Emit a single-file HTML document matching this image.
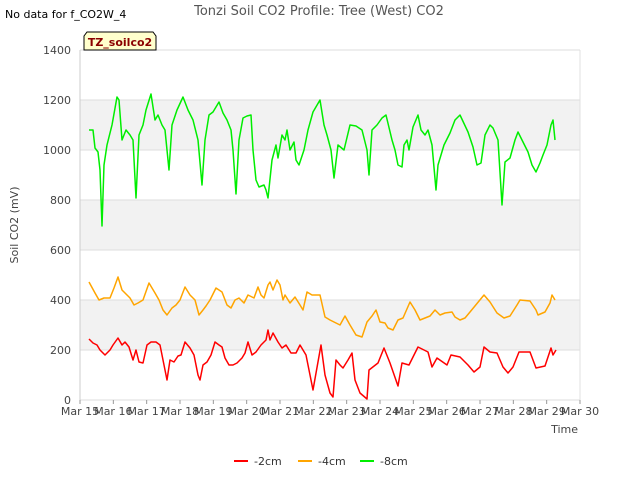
<!DOCTYPE html>
<html><head><meta charset="utf-8"><style>
body{margin:0;background:#fff;font-family:"DejaVu Sans","Liberation Sans",sans-serif;}
svg text{font-family:"DejaVu Sans","Liberation Sans",sans-serif;}
</style></head><body>
<svg id="chart" width="640" height="480">
<text x="5" y="18" font-size="11" fill="#000">No data for f_CO2W_4</text>
<text x="319" y="15" font-size="13" fill="#555" text-anchor="middle">Tonzi Soil CO2 Profile: Tree (West) CO2</text>
<g id="plot"></g>
<g><path d="M84,50 L84,36 L87,32 L153,32 L156,36 L156,50 Z" fill="#ffffcc" stroke="#000" stroke-width="1"/>
<text x="120" y="46" font-size="11" font-weight="bold" fill="#8b0000" text-anchor="middle">TZ_soilco2</text></g>
<text x="18" y="225" font-size="11" fill="#444" text-anchor="middle" transform="rotate(-90 18 225)">Soil CO2 (mV)</text>
<text x="578" y="433" font-size="11" fill="#444" text-anchor="end">Time</text>
<g id="legend"></g>
</svg>
<script>
const yTicks=[0,200,400,600,800,1000,1200,1400];
const xTickLabels=["Mar 15","Mar 16","Mar 17","Mar 18","Mar 19","Mar 20","Mar 21","Mar 22","Mar 23","Mar 24","Mar 25","Mar 26","Mar 27","Mar 28","Mar 29","Mar 30"];
const seriesNames=["-2cm","-4cm","-8cm"];
const seriesColors=["#ff0000","#ffa500","#00ee00"];
const tGreen=[0.27,0.39,0.45,0.54,0.6,0.66,0.72,0.81,0.96,1.11,1.17,1.26,1.38,1.5,1.59,1.68,1.77,1.89,1.98,2.13,2.25,2.34,2.46,2.55,2.67,2.76,2.91,3.09,3.24,3.39,3.54,3.66,3.75,3.87,3.99,4.17,4.29,4.41,4.53,4.59,4.68,4.77,4.89,5.01,5.13,5.19,5.28,5.37,5.52,5.58,5.64,5.76,5.88,5.94,6.06,6.15,6.21,6.3,6.42,6.48,6.57,6.72,6.84,6.99,7.2,7.32,7.41,7.53,7.62,7.74,7.92,8.1,8.28,8.46,8.61,8.67,8.76,8.91,9.06,9.18,9.36,9.45,9.54,9.66,9.72,9.81,9.87,9.99,10.14,10.23,10.35,10.44,10.56,10.68,10.74,10.92,11.1,11.25,11.4,11.64,11.79,11.91,12.03,12.15,12.3,12.39,12.54,12.66,12.75,12.9,13.05,13.14,13.26,13.44,13.56,13.68,13.8,13.89,14.01,14.13,14.19,14.25];
const vGreen=[1080,1080,1008,992,920,696,940,1020,1100,1212,1200,1040,1080,1060,1040,808,1060,1100,1160,1224,1120,1140,1100,1080,920,1100,1160,1212,1160,1120,1040,860,1040,1140,1152,1192,1148,1120,1080,1000,824,1040,1128,1136,1140,1000,880,852,860,840,808,960,1020,968,1060,1040,1080,1000,1032,960,940,1000,1080,1152,1200,1100,1060,1000,888,1020,1000,1100,1096,1080,1000,900,1080,1100,1128,1140,1040,1000,940,932,1020,1040,1000,1092,1140,1080,1060,1080,1020,840,940,1020,1068,1120,1140,1072,1012,940,948,1060,1100,1088,1040,780,952,968,1040,1072,1040,992,940,912,948,980,1020,1100,1120,1040];
const tOrange=[0.27,0.45,0.57,0.72,0.9,1.02,1.14,1.26,1.41,1.5,1.62,1.74,1.89,2.07,2.25,2.37,2.49,2.61,2.76,2.88,3.0,3.15,3.3,3.45,3.57,3.69,3.78,3.9,4.08,4.26,4.41,4.53,4.65,4.77,4.92,5.04,5.22,5.34,5.43,5.52,5.64,5.7,5.79,5.91,6.0,6.09,6.15,6.3,6.45,6.6,6.69,6.81,6.96,7.2,7.35,7.5,7.68,7.8,7.95,8.1,8.28,8.46,8.61,8.76,8.88,9.0,9.15,9.24,9.39,9.54,9.69,9.9,10.05,10.2,10.35,10.5,10.65,10.8,10.95,11.16,11.25,11.4,11.55,11.7,12.12,12.3,12.51,12.72,12.9,13.11,13.2,13.5,13.68,13.74,13.95,14.1,14.16,14.25];
const vOrange=[472,428,400,408,408,448,492,440,420,408,380,388,400,468,428,400,360,340,368,380,400,452,420,400,340,360,376,400,448,432,380,368,400,408,388,420,408,452,420,408,460,472,440,480,460,400,420,388,412,380,360,432,420,420,332,320,308,300,336,300,260,252,312,336,360,312,308,288,280,320,328,392,360,320,328,336,360,340,348,352,332,320,328,352,420,392,348,328,336,380,400,396,360,340,352,388,420,400];
const tRed=[0.27,0.39,0.51,0.6,0.75,0.9,0.99,1.14,1.26,1.35,1.47,1.59,1.68,1.77,1.89,2.01,2.13,2.28,2.4,2.52,2.61,2.7,2.82,2.94,3.03,3.15,3.3,3.42,3.54,3.6,3.69,3.81,3.93,4.05,4.17,4.26,4.35,4.47,4.59,4.71,4.86,4.95,5.04,5.16,5.28,5.43,5.58,5.64,5.7,5.79,5.94,6.06,6.18,6.33,6.48,6.6,6.78,6.9,6.99,7.23,7.35,7.5,7.59,7.68,7.8,7.89,8.04,8.16,8.25,8.4,8.61,8.67,8.94,9.12,9.3,9.54,9.66,9.87,10.14,10.44,10.56,10.71,11.01,11.13,11.4,11.64,11.82,12.0,12.12,12.3,12.51,12.69,12.84,12.99,13.17,13.5,13.68,13.95,14.13,14.19,14.28];
const vRed=[244,228,220,200,180,200,220,248,220,232,212,160,200,152,148,220,232,232,220,140,80,160,152,176,180,232,208,180,100,80,140,152,180,232,220,212,168,140,140,148,168,188,232,180,192,220,240,280,240,268,232,208,220,188,188,220,180,100,40,220,100,28,12,160,140,128,160,188,80,28,4,120,148,208,148,56,148,140,212,192,132,168,140,180,172,140,112,132,212,192,188,132,108,132,192,192,128,136,208,180,200];
const L=80,R=580,T=50,B=400,NS="http://www.w3.org/2000/svg";
const xS=d=>L+d*(R-L)/15, yS=v=>B-v*(B-T)/1400;
const plot=document.getElementById('plot');
function mk(tag,attrs,parent){const e=document.createElementNS(NS,tag);for(const k in attrs)e.setAttribute(k,attrs[k]);parent.appendChild(e);return e;}
mk('rect',{x:L,y:T,width:R-L,height:B-T,fill:'#fff'},plot);
[[200,400],[600,800],[1000,1200]].forEach(b=>{const r=mk('rect',{x:L,y:yS(b[1]),width:R-L,height:yS(b[0])-yS(b[1]),fill:'#f2f2f2'},plot);

});
yTicks.forEach(v=>{const l=mk('line',{x1:L,x2:R,y1:yS(v),y2:yS(v),stroke:'#dddddd','stroke-width':1},plot);


const t=mk('text',{x:L-9,y:yS(v)+4,'font-size':11,fill:'#444','text-anchor':'end'},plot);t.textContent=v;

});
mk('line',{x1:L,x2:L,y1:T,y2:B,stroke:'#ccc'},plot);
mk('line',{x1:R,x2:R,y1:T,y2:B,stroke:'#e0e0e0'},plot);
xTickLabels.forEach((s,i)=>{mk('line',{x1:xS(i),x2:xS(i),y1:B,y2:B+4,stroke:'#999'},plot);
const t=mk('text',{x:xS(i),y:B+15,'font-size':11,fill:'#444','text-anchor':'middle'},plot);t.textContent=s;

});
const series=[[tRed,vRed],[tOrange,vOrange],[tGreen,vGreen]];
series.forEach((s,i)=>{const d=s[0].map((t,j)=>(j?'L':'M')+xS(t).toFixed(1)+','+yS(s[1][j]).toFixed(1)).join('');
const p=mk('path',{d:d,fill:'none',stroke:seriesColors[i],'stroke-width':1.5,'stroke-linejoin':'round'},plot);

});
const lg=document.getElementById('legend');const lx=[234,298,360];
seriesNames.forEach((n,i)=>{const g=mk('g',{},lg);


mk('line',{x1:lx[i],x2:lx[i]+14,y1:461,y2:461,stroke:seriesColors[i],'stroke-width':2},g);
const t=mk('text',{x:lx[i]+20,y:465,'font-size':11,fill:'#333'},g);t.textContent=n;});
</script>
</body></html>
